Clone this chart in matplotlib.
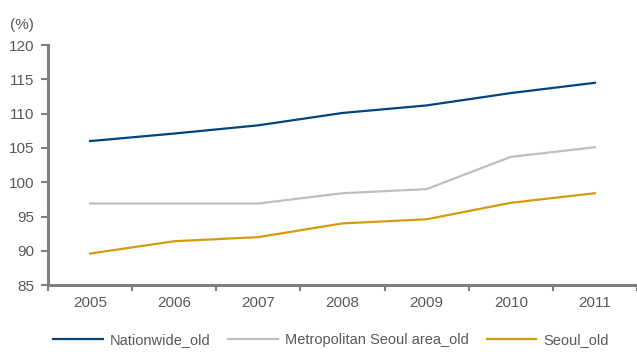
import matplotlib.pyplot as plt

YEARS = ["2005", "2006", "2007", "2008", "2009", "2010", "2011"]
NATIONWIDE = [106.0, 107.1, 108.3, 110.1, 111.2, 113.0, 114.5]
METRO_SEOUL = [96.9, 96.9, 96.9, 98.4, 99.0, 103.7, 105.1]
SEOUL = [89.6, 91.4, 92.0, 94.0, 94.6, 97.0, 98.4]
Y_TICKS = [85, 90, 95, 100, 105, 110, 115, 120]

TEXT_COLOR = "#595959"
AXIS_COLOR = "#7f7f7f"

plt.rcParams["font.family"] = ["Liberation Sans", "DejaVu Sans"]

fig = plt.figure(figsize=(6.37, 3.52), dpi=100)
ax = fig.add_axes([0.0754, 0.19, 0.9246, 0.682])

x = list(range(len(YEARS)))
ax.plot(x, NATIONWIDE, color="#00457c", lw=1.6, label="Nationwide_old")
ax.plot(x, METRO_SEOUL, color="#bfbfbf", lw=1.6, label="Metropolitan Seoul area_old")
ax.plot(x, SEOUL, color="#d49b0f", lw=1.6, label="Seoul_old")

ax.set_xlim(-0.5, len(YEARS) - 0.5)
ax.set_ylim(85, 120)
ax.set_yticks(Y_TICKS)
ax.set_xticks(x)
ax.set_xticklabels(YEARS)
ax.set_xticks([i - 0.5 for i in range(len(YEARS) + 1)], minor=True)

for side in ["top", "right"]:
    ax.spines[side].set_visible(False)
for side in ["left", "bottom"]:
    ax.spines[side].set_color(AXIS_COLOR)
    ax.spines[side].set_linewidth(2.2)

ax.tick_params(axis="x", which="major", length=0, pad=8, labelsize=11, labelcolor=TEXT_COLOR)
ax.tick_params(axis="x", which="minor", length=4, width=1.5, color=AXIS_COLOR, direction="out")
ax.tick_params(axis="y", length=5, width=1.5, color=AXIS_COLOR, labelsize=11,
               labelcolor=TEXT_COLOR, pad=5)

fig.text(0.015, 0.91, "(%)", fontsize=11, color=TEXT_COLOR, ha="left", va="bottom")

leg = fig.legend(loc="center", bbox_to_anchor=(0.52, 0.035), ncol=3, frameon=False,
                 fontsize=10.5, handlelength=3.4, columnspacing=1.2, handletextpad=0.5,
                 borderpad=0, borderaxespad=0)
for t in leg.get_texts():
    t.set_color(TEXT_COLOR)

fig.savefig("out.png", dpi=100)
